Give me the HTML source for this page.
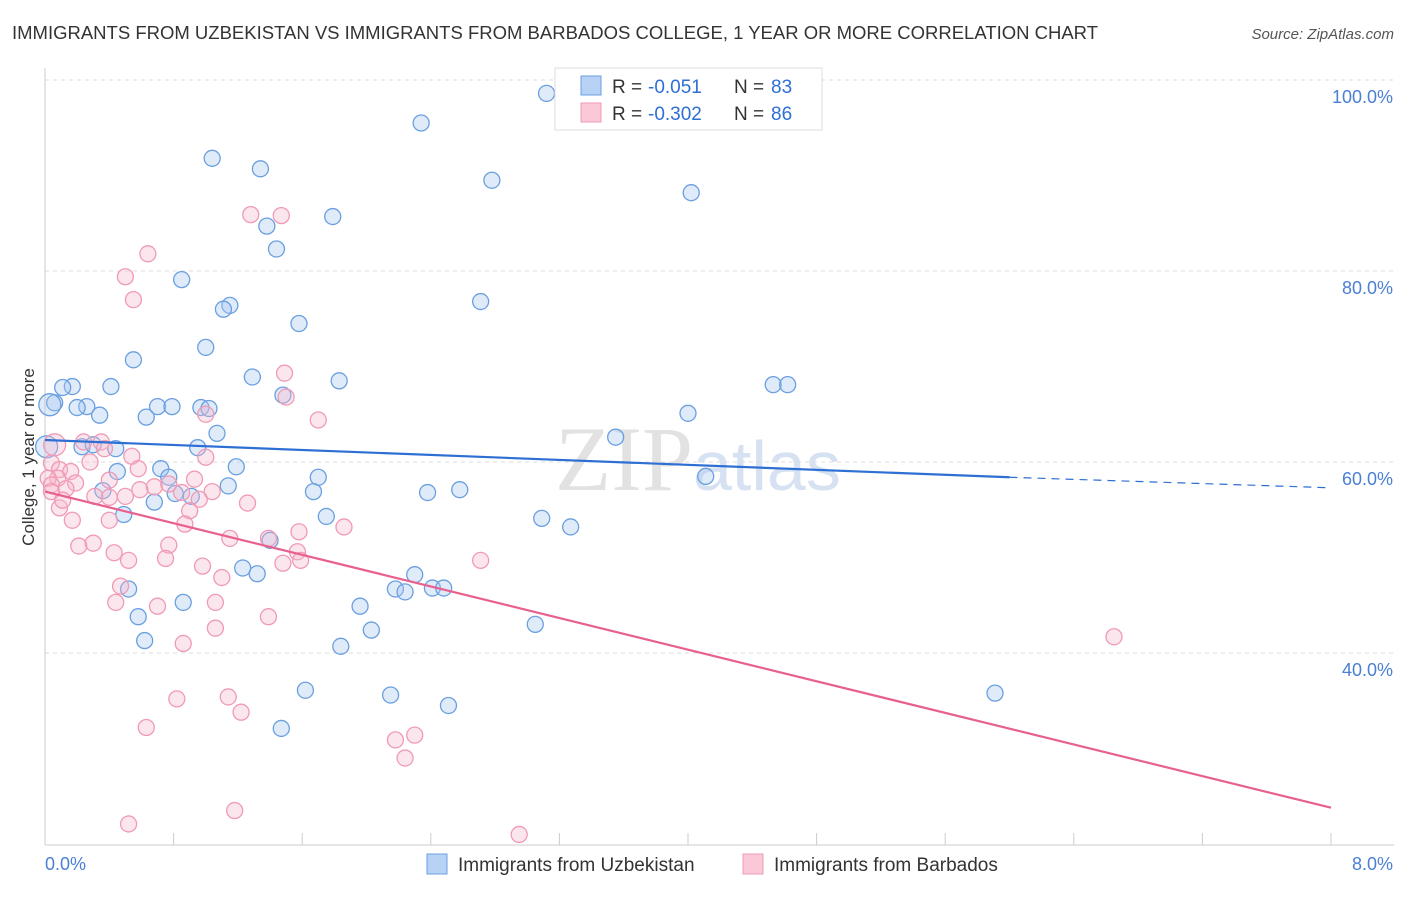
<!DOCTYPE html>
<html><head><meta charset="utf-8"><style>
body{margin:0;background:#fff;font-family:"Liberation Sans",sans-serif;}
</style></head><body>
<svg id="chart" width="1406" height="892" xmlns="http://www.w3.org/2000/svg" font-family="Liberation Sans, sans-serif">
<text x="12" y="39" font-size="18" fill="#333" textLength="1086" lengthAdjust="spacingAndGlyphs">IMMIGRANTS FROM UZBEKISTAN VS IMMIGRANTS FROM BARBADOS COLLEGE, 1 YEAR OR MORE CORRELATION CHART</text>
<text x="1394" y="39" font-size="15" fill="#555" font-style="italic" text-anchor="end">Source: ZipAtlas.com</text>
<text transform="translate(34,457) rotate(-90)" font-size="17" fill="#333" text-anchor="middle">College, 1 year or more</text>
<text x="555" y="490" font-size="92" fill="#e2e2e2" font-family="Liberation Serif, serif">ZIP<tspan fill="#d6e2f2" font-family="Liberation Sans, sans-serif" font-size="70">atlas</tspan></text>
<g id="grid"></g><g id="axes"></g><g id="pts"></g><g id="lines"></g>
<g>
<rect x="555" y="68" width="267" height="62" fill="#fff" stroke="#ddd"/>
<rect x="581" y="76" width="20" height="19" fill="#b8d2f5" stroke="#6a9fe0"/>
<rect x="581" y="103" width="20" height="19" fill="#fbc8d8" stroke="#f09ab5"/>
<text x="612" y="93" font-size="19" fill="#333">R =</text>
<text x="648" y="93" font-size="19" fill="#2e6fd4">-0.051</text>
<text x="734" y="93" font-size="19" fill="#333">N =</text>
<text x="771" y="93" font-size="19" fill="#2e6fd4">83</text>
<text x="612" y="120" font-size="19" fill="#333">R =</text>
<text x="648" y="120" font-size="19" fill="#2e6fd4">-0.302</text>
<text x="734" y="120" font-size="19" fill="#333">N =</text>
<text x="771" y="120" font-size="19" fill="#2e6fd4">86</text>
</g>
<g>
<rect x="427" y="854" width="20" height="20" fill="#b8d2f5" stroke="#6a9fe0"/>
<text x="458" y="871" font-size="19" fill="#333">Immigrants from Uzbekistan</text>
<rect x="743" y="854" width="20" height="20" fill="#fbc8d8" stroke="#f09ab5"/>
<text x="774" y="871" font-size="19" fill="#333">Immigrants from Barbados</text>
</g>
</svg>
<script>
const blueX=[3.12,2.34,1.04,1.34,2.78,4.02,1.79,1.38,1.44,0.85,2.71,1.15,1.11,1.58,1.00,0.55,1.29,1.83,0.17,0.11,0.41,4.53,4.62,1.48,0.06,0.26,0.20,0.34,0.70,0.79,0.97,1.02,0.63,4.00,1.07,3.55,0.23,0.30,0.44,0.95,1.19,0.72,0.45,0.77,1.70,4.11,0.36,0.81,0.68,1.14,1.67,2.38,2.58,0.91,0.49,1.75,3.09,3.27,1.40,1.23,1.32,2.30,2.18,2.24,2.41,2.48,0.52,1.96,0.86,0.58,3.05,2.03,0.62,1.84,1.62,2.15,5.91,2.51,1.47,0.01,0.03];
const blueY=[98.6,95.5,91.8,90.7,89.5,88.2,85.7,84.7,82.3,79.1,76.8,76.4,76.0,74.5,72.0,70.7,68.9,68.5,67.9,67.8,67.9,68.1,68.1,67.0,66.2,65.8,65.7,64.9,65.8,65.8,65.7,65.6,64.7,65.1,63.0,62.6,61.6,61.8,61.4,61.5,59.5,59.3,59.0,58.4,58.4,58.5,57.0,56.7,55.8,57.5,56.9,56.8,57.1,56.4,54.5,54.3,54.1,53.2,51.8,48.9,48.3,48.2,46.7,46.4,46.8,46.8,46.7,44.9,45.3,43.8,43.0,42.4,41.3,40.7,36.1,35.6,35.8,34.5,32.1,61.6,66.0];
const pinkX=[1.28,1.47,0.64,0.50,0.55,1.49,1.50,1.70,1.00,0.24,0.35,0.37,1.00,0.28,0.04,0.09,0.16,0.54,0.58,0.93,0.40,0.08,0.02,0.19,0.04,0.13,0.31,0.40,0.50,0.68,0.77,0.59,0.96,1.04,1.26,0.85,0.09,0.17,0.40,0.90,0.87,1.15,1.39,1.58,1.86,1.57,1.59,1.48,0.21,0.30,0.43,0.52,0.77,0.75,0.98,1.10,0.47,0.44,0.70,1.06,1.39,1.06,0.86,2.71,6.65,0.82,1.14,1.22,0.63,2.18,2.30,2.24,0.52,1.18,2.95,0.06,0.04,0.11];
const pinkY=[85.9,85.8,81.8,79.4,77.0,69.3,66.8,64.4,65.0,62.1,62.1,61.4,60.5,60.0,59.9,59.2,59.0,60.6,59.3,58.2,58.1,58.3,58.3,57.8,57.6,57.2,56.4,56.3,56.4,57.4,57.7,57.1,56.1,56.9,55.7,56.8,55.2,53.9,53.9,54.9,53.5,52.0,52.0,52.7,53.2,50.6,49.7,49.4,51.2,51.5,50.5,49.7,51.3,49.9,49.1,47.9,47.0,45.3,44.9,45.3,43.8,42.6,41.0,49.7,41.7,35.2,35.4,33.8,32.2,30.9,31.4,29.0,22.1,23.5,21.0,61.8,56.9,56.0];
const xTicks=[0,0.8,1.6,2.4,3.2,4.0,4.8,5.6,6.4,7.2,8.0];
const yGrid=[100,80,60,40];
const yTickLabels=["100.0%","80.0%","60.0%","40.0%"];
const blueTrend=[62.3,58.4,57.3]; // at x=0, 6.0, 8.0
const pinkTrend=[56.9,23.8]; // at x=0, 8.0
const NS="http://www.w3.org/2000/svg";
const X=v=>45+v/8*1286, Y=v=>80+(100-v)/20*191;
function mk(t,a,p){const e=document.createElementNS(NS,t);for(const k in a)e.setAttribute(k,a[k]);document.getElementById(p).appendChild(e);return e;}
yGrid.forEach((g,i)=>{
 const l=mk('line',{x1:45,x2:1394,y1:Y(g),y2:Y(g),stroke:'#ddd','stroke-dasharray':'4,4'},'grid');
 
 
 const t=mk('text',{x:1393,y:Y(g)+23,'font-size':18,fill:'#4a7fd4','text-anchor':'end'},'axes');t.textContent=yTickLabels[i];
 
 
});
const ax=mk('line',{x1:45,x2:1394,y1:845,y2:845,stroke:'#ccc'},'axes');


const ay=mk('line',{x1:45,x2:45,y1:68,y2:845,stroke:'#ccc'},'axes');


xTicks.forEach(v=>{const t=mk('line',{x1:X(v),x2:X(v),y1:845,y2:833,stroke:'#ccc'},'axes');
 
 });
let t0=mk('text',{x:45,y:870,'font-size':18,fill:'#4a7fd4'},'axes');t0.textContent='0.0%';


let t1=mk('text',{x:1393,y:870,'font-size':18,fill:'#4a7fd4','text-anchor':'end'},'axes');t1.textContent='8.0%';


function pts(xs,ys,f,s,n,bigIdx){xs.forEach((x,i)=>{const big=bigIdx.includes(i);const c=mk('circle',{cx:X(x),cy:Y(ys[i]),r:big?11:8,fill:f,stroke:s,'stroke-width':1.3},'pts');
 
 });}
pts(blueX,blueY,'rgba(165,198,240,0.35)','#6a9fe0','uzbekistan-point',[79,80]);
pts(pinkX,pinkY,'rgba(246,182,202,0.35)','#f09ab5','barbados-point',[75]);
let l1=mk('line',{x1:X(0),y1:Y(blueTrend[0]),x2:X(6.0),y2:Y(blueTrend[1]),stroke:'#2e6fd4','stroke-width':2.2},'lines');


let l2=mk('line',{x1:X(6.0),y1:Y(blueTrend[1]),x2:X(8.0),y2:Y(blueTrend[2]),stroke:'#2e6fd4','stroke-width':1.2,'stroke-dasharray':'8,6'},'lines');


let l3=mk('line',{x1:X(0),y1:Y(pinkTrend[0]),x2:X(8),y2:Y(pinkTrend[1]),stroke:'#e8608e','stroke-width':2.2},'lines');


</script>
</body></html>
